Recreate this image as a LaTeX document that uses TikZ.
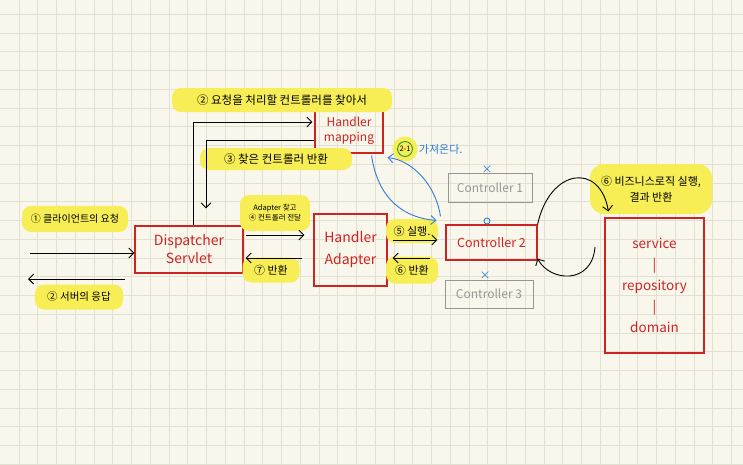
\documentclass[tikz,border=0pt]{standalone}
\usepackage{fontspec}
\setmainfont{Noto Sans CJK KR}
\usetikzlibrary{
  arrows.meta,   % Straight Barb 화살표
  calc,          % 좌표 계산
  positioning    % 상대 위치
}

\definecolor{paper}{RGB}{249,247,236}
\definecolor{gridline}{RGB}{226,224,210}
\definecolor{penred}{RGB}{205,35,35}
\definecolor{pengray}{RGB}{150,150,150}
\definecolor{hlyellow}{RGB}{247,238,85}
\definecolor{penblue}{RGB}{45,125,215}
\definecolor{pengreen}{RGB}{40,150,60}

\tikzset{
  redbox/.style={draw=penred, line width=1.1pt, text=penred, align=center,
    inner sep=0pt, font=\fontsize{14}{18}\selectfont},
  graybox/.style={draw=pengray, line width=1pt, text=pengray, inner sep=0pt,
    font=\fontsize{12}{14}\selectfont},
  hl/.style={fill=hlyellow, rounded corners=9pt, inner sep=2pt, align=center,
    font=\fontsize{10}{12}\selectfont},
  pen/.style={line width=0.9pt, -{Straight Barb[length=5pt,width=10pt]}},
  blueline/.style={penblue, line width=0.9pt, -{Straight Barb[length=5pt,width=9pt]}},
  xmark/.style={text=penblue, inner sep=0pt, font=\fontsize{11}{11}\selectfont}
}

\begin{document}
\begin{tikzpicture}[x=1pt, y=-1pt]

  % =========== 배경 (모눈종이) ===========
  \useasboundingbox (0,0) rectangle (743,464);
  \fill[paper] (0,0) rectangle (743,464);
  \foreach \i in {1,...,39}
    \draw[gridline, line width=0.5pt] (\i*18.75,0) -- (\i*18.75,464);
  \foreach \j in {0,...,24}
    \draw[gridline, line width=0.5pt] (0,14+\j*18.75) -- (743,14+\j*18.75);

  % =========== 상자 ===========
  \node[redbox, minimum width=108pt, minimum height=47pt] (ds) at (189,249.5) {Dispatcher\\Servlet};
  \node[redbox, minimum width=68pt, minimum height=45pt, font=\fontsize{12}{15}\selectfont] (hmap) at (349,130.5) {Handler\\mapping};
  \node[redbox, minimum width=73pt, minimum height=72pt, font=\fontsize{14}{22}\selectfont] (hadapt) at (350.5,250) {Handler\\Adapter};
  \node[redbox, minimum width=91pt, minimum height=35pt, font=\fontsize{12.5}{15}\selectfont] (ctrl2) at (491.5,242.5) {Controller 2};
  \node[graybox, minimum width=84pt, minimum height=29pt] (ctrl1) at (490,187.5) {Controller 1};
  \node[graybox, minimum width=88pt, minimum height=28pt] (ctrl3) at (489,294) {Controller 3};
  \node[redbox, minimum width=99pt, minimum height=135pt, font=\fontsize{13.5}{21}\selectfont] (svc) at (654.5,285.5) {service\\|\\repository\\|\\domain};

  % 컨트롤러 선택 표시
  \node[xmark] (x1) at (487,170) {×};
  \node[circle, draw=penblue, line width=0.9pt, minimum size=6pt, inner sep=0pt] (o2) at (487,221) {};
  \node[xmark] (x3) at (485,276) {×};

  % =========== 형광펜 설명 ===========
  \node[hl, minimum width=106pt, minimum height=26pt] (lreq) at (75,219) {① 클라이언트의 요청};
  \node[hl, minimum width=88pt, minimum height=25pt, font=\fontsize{10.5}{12}\selectfont] (lres) at (79,297) {② 서버의 응답};
  \node[hl, minimum width=220pt, minimum height=24pt, font=\fontsize{11.5}{13}\selectfont] (lfind) at (282,100) {② 요청을 처리할 컨트롤러를 찾아서};
  \node[hl, minimum width=152pt, minimum height=22pt, font=\fontsize{11.5}{13}\selectfont] (lret) at (276,159) {③ 찾은 컨트롤러 반환};
  \node[hl, minimum width=70pt, minimum height=36pt, font=\fontsize{7.5}{10}\selectfont] (lpass) at (275,213) {Adapter 찾고\\④ 컨트롤러 전달};
  \node[hl, minimum width=57pt, minimum height=25pt, font=\fontsize{11}{12}\selectfont] (lback7) at (271,270) {⑦ 반환};
  \node[hl, minimum width=52pt, minimum height=24pt, font=\fontsize{11}{12}\selectfont] (lrun) at (412,231) {⑤ 실행.};
  \node[hl, minimum width=52pt, minimum height=27pt, font=\fontsize{11}{12}\selectfont] (lback6) at (412,270) {⑥ 반환};
  \node[hl, minimum width=122pt, minimum height=50pt, rounded corners=14pt, font=\fontsize{11}{16}\selectfont] (lbiz) at (651,189) {⑥ 비즈니스로직 실행,\\결과 반환};

  % 2-1 표시
  \node[circle, fill=hlyellow, minimum size=25pt] (fb) at (405,149) {};
  \node[circle, draw=pengreen, line width=0.9pt, text=black, inner sep=1pt,
    font=\fontsize{7.5}{7.5}\selectfont] (num) at (fb) {2-1};
  \node[right=1pt of fb, text=penblue, inner sep=0pt, font=\fontsize{11}{12}\selectfont] (fetch) {가져온다.};

  % =========== 화살표 ===========
  % 클라이언트 <-> Dispatcher
  \coordinate (cin) at (30,253);
  \coordinate (cout) at (28,279);
  \coordinate (cout0) at ($(ds.west |- cout)+(-9,0)$);
  \draw[pen] (cin) -- (cin -| ds.west);
  \draw[pen] (cout0) -- (cout);

  % Dispatcher <-> Handler mapping
  \draw[pen, shorten >=2pt] ($(ds.north)+(4,0)$) |- ($(hmap.west)+(0,-8.5)$);
  \draw[pen, shorten >=17pt] ($(hmap.west)+(0,9.5)$) -| ($(ds.north)+(17,0)$);

  % Dispatcher <-> Handler Adapter
  \draw[pen, shorten <=2pt, shorten >=9pt] ($(ds.east)+(0,-14.5)$) -- ($(hadapt.west)+(0,-15)$);
  \draw[pen, shorten <=11pt, shorten >=2pt] ($(hadapt.west)+(0,8)$) -- ($(ds.east)+(0,8.5)$);

  % Handler Adapter <-> Controller 2
  \draw[pen, shorten <=5pt, shorten >=8pt] ($(hadapt.east)+(0,-10)$) -- ($(ctrl2.west)+(0,-2.5)$);
  \draw[pen, shorten <=15pt, shorten >=5pt] ($(ctrl2.west)+(0,15.5)$) -- ($(hadapt.east)+(0,8)$);

  % Handler mapping <-> Controller 2 (파란 곡선)
  \draw[blueline] ($(hmap.south east)+(-12,2)$) .. controls (378,200) and (405,218) .. ($(ctrl2.north west)+(-9,-4)$);
  \draw[blueline] ($(ctrl2.north west)+(-5,-8)$) .. controls (436,185) and (412,160) .. ($(hmap.south east)+(4,4)$);

  % Controller 2 <-> service
  \coordinate (loopst) at (595,247);
  \draw[pen] (ctrl2.north east) .. controls (550,168) and (600,162) .. ($(svc.north west)+(4,-6)$);
  \draw[pen] (loopst) .. controls (592,285) and (550,282) .. ($(ctrl2.south east)+(0,-2)$);

\end{tikzpicture}
\end{document}
